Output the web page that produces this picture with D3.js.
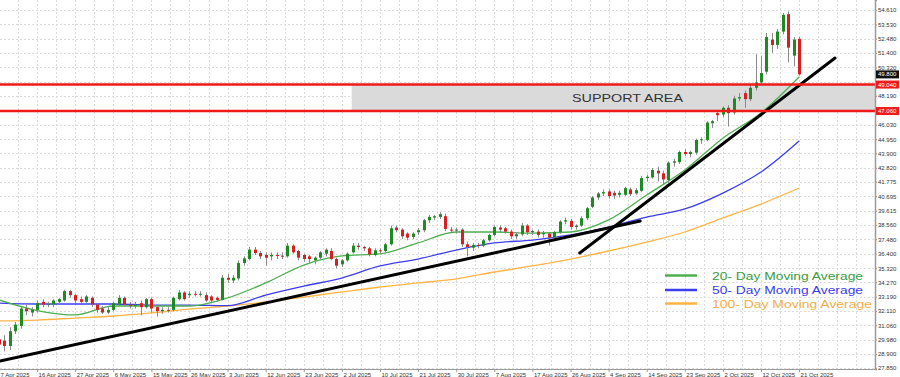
<!DOCTYPE html>
<html>
<head>
<meta charset="utf-8">
<script src="https://cdn.jsdelivr.net/npm/d3@7"></script>
<style>
  body { margin: 0; background: #fff; }
  svg { display: block; font-family: Arial, "Liberation Sans", sans-serif; }
  .axis path, .axis line { stroke: #9a9a9a; }
  .axis text { fill: #333; font-size: 6px; }
  .grid line { stroke: #dcdcdc; stroke-dasharray: 2,2; }
</style>
</head>
<body>
<svg id="chart" width="900" height="377"></svg>
<script>
// daily candles, 7 Apr 2025 .. 21 Oct 2025
var opens = [30.0,29.9,29.5,30.6,31.0,32.3,32.0,32.2,32.8,32.6,32.6,32.8,32.9,33.6,33.3,33.0,32.8,33.1,32.6,32.3,
  32.0,32.2,32.6,33.1,32.6,32.5,32.7,32.4,33.0,32.4,32.1,32.2,32.2,33.0,33.5,33.3,33.4,33.35,33.3,33.2,
  33.1,32.95,34.6,34.4,34.55,35.7,36.0,36.7,36.45,36.3,36.2,36.3,36.25,36.2,37.0,36.6,36.3,36.2,35.9,36.1,
  36.4,36.6,36.0,35.6,35.9,36.5,37.0,36.9,36.8,36.3,36.65,36.6,37.1,38.35,38.2,37.9,37.65,38.0,38.15,38.9,
  39.1,39.15,39.2,38.2,38.15,38.2,37.1,36.85,37.05,37.0,37.4,37.8,38.35,38.3,38.05,37.7,37.85,38.5,38.0,38.05,
  37.85,37.9,37.6,38.0,38.8,38.85,38.4,38.5,39.05,39.9,40.6,40.9,41.05,40.95,40.8,40.8,41.2,40.9,41.1,42.05,
  42.1,42.6,42.4,41.9,43.2,43.25,44.0,43.85,43.95,44.9,44.9,46.15,46.9,46.8,47.3,46.95,48.0,48.4,47.95,48.8,
  49.2,50.0,52.4,52.0,53.0,54.3,51.2,52.45];
var highs = [30.4,30.3,30.9,31.3,32.5,32.6,32.4,32.9,33.0,32.8,33.0,33.1,33.7,33.7,33.4,33.2,33.3,33.2,32.7,32.5,
  32.4,32.8,33.3,33.2,32.8,32.8,32.9,33.1,33.1,32.6,32.4,32.4,33.2,33.7,33.6,33.6,33.6,33.6,33.5,33.3,
  33.2,34.8,34.9,34.8,35.9,36.2,36.9,36.9,36.6,36.5,36.5,36.5,36.5,37.2,37.1,36.7,36.4,36.3,36.2,36.6,
  36.8,36.8,36.1,36.0,36.5,37.2,37.2,37.0,36.9,36.8,36.8,37.2,38.5,38.5,38.3,38.0,38.0,38.3,39.0,39.3,
  39.3,39.5,39.4,38.4,38.35,38.3,37.3,37.2,37.2,37.5,37.9,38.5,38.5,38.4,38.2,38.0,38.7,38.6,38.2,38.2,
  38.1,38.0,38.1,38.9,39.1,39.0,38.6,39.2,39.9,40.7,41.0,41.2,41.2,41.1,41.1,41.4,41.35,41.3,42.2,42.3,
  42.8,42.9,42.6,43.3,43.5,44.1,44.2,44.1,45.0,45.1,46.3,46.4,47.1,47.4,47.5,48.2,48.4,48.6,49.0,51.3,
  51.2,52.9,52.9,53.2,54.4,54.5,52.6,52.6];
var lows = [28.5,29.1,29.2,30.4,30.8,31.8,31.7,32.0,32.4,32.4,32.4,32.6,32.8,33.1,32.7,32.7,32.7,32.4,32.0,31.9,
  31.9,32.1,32.5,32.5,32.3,32.3,31.8,32.3,32.0,31.7,31.9,32.0,32.1,32.9,32.9,33.1,33.2,33.2,32.8,32.7,
  32.8,32.9,34.2,34.2,34.4,35.5,35.9,36.3,36.0,35.5,35.9,36.0,36.0,36.1,36.4,35.9,35.8,35.7,35.6,36.0,
  36.2,35.9,35.3,35.4,35.8,36.4,36.7,36.6,36.2,36.2,36.4,36.5,37.0,38.0,37.5,37.4,37.5,37.8,38.0,38.7,
  38.9,39.0,38.1,38.0,37.9,36.9,36.2,36.6,36.8,36.9,37.3,37.7,38.0,37.9,37.5,37.5,37.7,37.8,37.8,37.6,
  37.6,37.0,37.5,37.9,38.6,38.2,38.2,38.4,38.9,39.8,40.4,40.7,40.5,40.5,40.6,40.7,40.7,40.8,41.0,41.8,
  42.0,41.8,41.6,41.7,42.9,43.1,43.7,43.6,43.8,44.6,44.8,45.8,46.3,46.6,45.9,46.8,47.8,47.3,47.8,48.6,
  49.0,49.8,51.4,51.7,52.8,50.7,50.4,49.7];
var closes = [29.6,29.5,30.6,31.1,32.3,32.1,32.2,32.7,32.6,32.65,32.9,33.0,33.6,33.3,32.9,32.8,33.2,32.6,32.2,32.0,
  32.2,32.7,33.1,32.6,32.5,32.6,32.4,33.0,32.3,32.1,32.2,32.15,33.1,33.5,33.0,33.4,33.35,33.4,32.9,32.9,
  32.95,34.6,34.45,34.6,35.7,36.05,36.7,36.45,36.2,36.1,36.3,36.25,36.2,37.0,36.5,36.1,36.0,36.0,36.1,36.5,
  36.7,36.0,35.5,35.9,36.4,37.0,36.9,36.8,36.35,36.65,36.6,37.1,38.3,38.15,37.7,37.6,37.9,38.15,38.9,39.15,
  39.2,39.35,38.25,38.15,38.2,37.1,36.9,37.05,37.0,37.4,37.8,38.4,38.2,38.05,37.7,37.85,38.5,38.0,38.1,37.8,
  37.95,37.6,38.0,38.8,38.9,38.4,38.5,39.05,39.8,40.6,40.9,41.0,40.7,40.75,40.95,41.3,40.85,41.15,42.05,42.15,
  42.65,42.4,41.95,43.2,43.3,44.0,43.85,44.0,44.9,44.95,46.2,46.3,46.75,47.3,46.9,48.0,48.1,47.95,48.8,49.2,
  49.9,52.6,52.0,53.0,54.25,51.8,52.4,49.8];

// moving averages read at every 7th candle
var maIndex = [0,7,14,21,28,35,42,49,56,63,70,77,84,91,98,105,112,119,126,133,140,147];
var ma20  = [32.94,32.15,31.82,32.49,32.49,32.49,33.09,34.21,35.55,36.23,36.38,37.20,38.02,38.02,37.94,38.02,38.92,40.78,42.65,45.03,46.91,49.60];
var ma50  = [32.71,32.64,32.64,32.64,32.56,32.56,32.52,33.31,33.98,34.58,35.48,36.00,36.67,37.20,37.42,37.80,38.39,39.14,39.74,40.93,42.50,44.82];
var ma100 = [31.37,31.44,31.59,31.74,31.97,32.26,32.49,32.79,33.16,33.54,33.91,34.21,34.51,35.03,35.48,36.00,36.60,37.27,38.02,39.07,40.11,41.31];

var dateTickIndex = [0,7,14,21,28,35,42,49,56,63,70,77,84,91,98,105,112,119,126,133,140,147];
var dateLabels = ["7 Apr 2025","16 Apr 2025","27 Apr 2025","6 May 2025","15 May 2025","26 May 2025","3 Jun 2025",
  "12 Jun 2025","23 Jun 2025","2 Jul 2025","10 Jul 2025","21 Jul 2025","30 Jul 2025","7 Aug 2025","17 Aug 2025",
  "26 Aug 2025","4 Sep 2025","14 Sep 2025","23 Sep 2025","2 Oct 2025","12 Oct 2025","21 Oct 2025"];
// 49.240 and 47.110 sit under the red price markers
var priceTicks = [54.610,53.530,52.480,51.400,50.320,48.190,46.030,44.950,43.900,42.820,41.775,
  40.695,39.615,38.560,37.480,36.400,35.320,34.270,33.190,32.110,31.060,29.980,28.900,27.850];
var hiddenTicks = [49.240,47.110];

// support zone and trend lines
var supportHigh = 49.04, supportLow = 47.06, supportStart = 64.8;
var lastPrice = 49.80;
var trendLines = [
  [{i: 0.2, v: 28.38}, {i: 117.8, v: 38.84}],
  [{i: 106.7, v: 36.45}, {i: 153.6, v: 51.02}]
];
var legendItems = [
  {label: "20- Day Moving Average", color: "#3d9b3d", line: "#4caf50"},
  {label: "50- Day Moving Average", color: "#3b3bee", line: "#3c3cf2"},
  {label: "100- Day Moving Average", color: "#f5ae45", line: "#ffb545"}
];

var width = 875, height = 369;
var svg = d3.select("#chart");

var x = d3.scaleLinear().domain([0, 161]).range([-1, 875.3]);
var y = d3.scaleLinear().domain([27.78, 55.36]).range([height, 0]);

svg.append("defs").append("clipPath").attr("id", "plot-clip")
  .append("rect").attr("width", width).attr("height", height);

var plot = svg.append("g").attr("clip-path", "url(#plot-clip)");

// grid
plot.append("g").attr("class", "grid")
  .selectAll("line").data(priceTicks.concat(hiddenTicks)).enter().append("line")
  .attr("x1", 0).attr("x2", width)
  .attr("y1", d => Math.round(y(d)) + 0.5).attr("y2", d => Math.round(y(d)) + 0.5);
plot.append("g").attr("class", "grid")
  .selectAll("line").data(d3.range(0, 161.1, 3.5)).enter().append("line")
  .attr("y1", 0).attr("y2", height)
  .attr("x1", d => Math.round(x(d)) + 0.5).attr("x2", d => Math.round(x(d)) + 0.5);

// support area
plot.append("rect")
  .attr("x", x(supportStart)).attr("width", width - x(supportStart))
  .attr("y", y(supportHigh)).attr("height", y(supportLow) - y(supportHigh))
  .attr("fill", "#dadada");

// moving averages
var maLine = d3.line().x(d => x(d.i)).y(d => y(d.v)).curve(d3.curveMonotoneX);
[[ma100, legendItems[2].line], [ma50, legendItems[1].line], [ma20, legendItems[0].line]].forEach(function (m) {
  plot.append("path")
    .datum(maIndex.map((idx, k) => ({i: idx, v: m[0][k]})))
    .attr("fill", "none").attr("stroke", m[1]).attr("stroke-width", 1.3)
    .attr("d", maLine);
});

// candles
var candles = closes.map((c, i) => ({i: i, o: opens[i], h: highs[i], l: lows[i], c: c}));
var cg = plot.append("g");
cg.selectAll(".wick").data(candles).enter().append("line")
  .attr("class", "wick")
  .attr("x1", d => Math.round(x(d.i)) + 0.5).attr("x2", d => Math.round(x(d.i)) + 0.5)
  .attr("y1", d => y(d.h)).attr("y2", d => y(d.l))
  .attr("stroke", "#8a8a8a").attr("stroke-width", 1);
cg.selectAll(".body").data(candles).enter().append("rect")
  .attr("class", "body")
  .attr("x", d => Math.round(x(d.i)) - 1).attr("width", 3)
  .attr("y", d => y(Math.max(d.o, d.c)))
  .attr("height", d => Math.max(1, Math.abs(y(d.o) - y(d.c))))
  .attr("fill", d => d.c >= d.o ? "#1f8a24" : "#d71f1f");

// trend lines
trendLines.forEach(function (t) {
  plot.append("line")
    .attr("x1", x(t[0].i)).attr("y1", y(t[0].v))
    .attr("x2", x(t[1].i)).attr("y2", y(t[1].v))
    .attr("stroke", "#000").attr("stroke-width", 3).attr("stroke-linecap", "round");
});

// support lines
[supportHigh, supportLow].forEach(function (v) {
  plot.append("line")
    .attr("x1", 0).attr("x2", width).attr("y1", y(v)).attr("y2", y(v))
    .attr("stroke", "#f01a1a").attr("stroke-width", 2.5);
});

plot.append("text")
  .attr("x", 572).attr("y", y((supportHigh + supportLow) / 2) + 4)
  .attr("font-size", "10.5px").attr("fill", "#333")
  .attr("textLength", 111).attr("lengthAdjust", "spacingAndGlyphs")
  .text("SUPPORT AREA");

// axes
svg.append("g").attr("class", "axis")
  .attr("transform", "translate(" + width + ",0)")
  .call(d3.axisRight(y).tickValues(priceTicks).tickFormat(d3.format(".3f")).tickSize(2).tickPadding(1))
  .call(g => g.select(".domain").attr("stroke-width", 1.5));

var xAxis = svg.append("g").attr("class", "axis")
  .attr("transform", "translate(0," + height + ")")
  .call(d3.axisBottom(x).tickValues(dateTickIndex).tickFormat((d, k) => dateLabels[k]).tickSize(3).tickSizeOuter(0));
xAxis.selectAll("text").attr("text-anchor", "start").attr("dx", "1px").attr("dy", "0.4em");

// price markers on axis
[{v: supportHigh, fill: "#f01a1a"}, {v: supportLow, fill: "#f01a1a"}, {v: lastPrice, fill: "#111"}].forEach(function (m) {
  svg.append("rect").attr("x", width + 1).attr("y", y(m.v) - 4).attr("width", 23).attr("height", 8).attr("fill", m.fill);
  svg.append("text").attr("x", width + 3).attr("y", y(m.v) + 2)
    .attr("font-size", "6px").attr("fill", "#fff").text(d3.format(".3f")(m.v));
});

// legend
var legendY = [275.5, 290, 303.5];
legendItems.forEach(function (d, k) {
  svg.append("line").attr("x1", 665).attr("x2", 697).attr("y1", legendY[k]).attr("y2", legendY[k])
    .attr("stroke", d.line).attr("stroke-width", 2.5);
  svg.append("text").attr("x", 712).attr("y", legendY[k] + 4)
    .attr("font-size", "10.5px").attr("fill", d.color)
    .attr("textLength", k === 2 ? 160 : 151).attr("lengthAdjust", "spacingAndGlyphs")
    .text(d.label);
});
</script>
</body>
</html>
